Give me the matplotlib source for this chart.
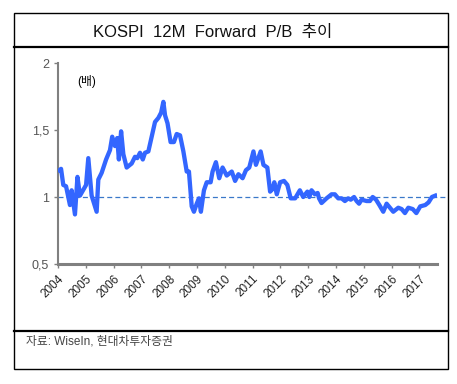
import matplotlib.pyplot as plt
from matplotlib.lines import Line2D
from matplotlib.patches import Rectangle

plt.rcParams['font.family'] = ['Liberation Sans', 'Noto Sans CJK KR', 'DejaVu Sans']

# KOSPI 12M forward P/B (decimal year, ratio)
years = [2004.05, 2004.11, 2004.19, 2004.29, 2004.43, 2004.49, 2004.61, 2004.70, 2004.79,
         2005.01, 2005.09, 2005.21, 2005.39, 2005.45, 2005.57, 2005.73, 2005.87, 2005.95,
         2006.05, 2006.13, 2006.19, 2006.27, 2006.35, 2006.47, 2006.65, 2006.77, 2006.85, 2006.95,
         2007.05, 2007.13, 2007.25, 2007.37, 2007.49, 2007.61, 2007.71, 2007.79, 2007.85, 2007.94,
         2008.05, 2008.17, 2008.27, 2008.39, 2008.51, 2008.63, 2008.71, 2008.81, 2008.89, 2008.99,
         2009.07, 2009.14, 2009.25, 2009.35, 2009.49, 2009.56, 2009.68, 2009.80, 2009.92,
         2010.07, 2010.25, 2010.37, 2010.49, 2010.64, 2010.76, 2010.88,
         2011.03, 2011.12, 2011.29, 2011.39, 2011.53, 2011.63, 2011.72, 2011.78, 2011.87, 2011.99,
         2012.13, 2012.25, 2012.37, 2012.53, 2012.70, 2012.82, 2012.97,
         2013.04, 2013.12, 2013.24, 2013.34, 2013.39, 2013.48, 2013.66, 2013.84, 2013.96,
         2014.08, 2014.20, 2014.32, 2014.44, 2014.53, 2014.65, 2014.74, 2014.83, 2014.92,
         2015.10, 2015.22, 2015.32, 2015.44, 2015.56, 2015.70, 2015.82, 2015.94,
         2016.06, 2016.24, 2016.36, 2016.48, 2016.60, 2016.76, 2016.89,
         2017.03, 2017.21, 2017.33, 2017.45, 2017.57]
pb = [1.20, 1.21, 1.09, 1.08, 0.94, 1.05, 0.87, 1.15, 1.01,
      1.09, 1.29, 1.01, 0.89, 1.13, 1.18, 1.28, 1.35, 1.45,
      1.38, 1.44, 1.28, 1.49, 1.32, 1.22, 1.25, 1.30, 1.29, 1.33,
      1.28, 1.33, 1.34, 1.45, 1.56, 1.59, 1.63, 1.71, 1.61, 1.55,
      1.41, 1.41, 1.47, 1.46, 1.34, 1.19, 1.19, 0.93, 0.89, 0.95,
      0.99, 0.89, 1.05, 1.11, 1.11, 1.19, 1.26, 1.14, 1.22,
      1.16, 1.19, 1.12, 1.17, 1.14, 1.20, 1.22,
      1.34, 1.24, 1.34, 1.24, 1.22, 1.04, 1.06, 1.11, 1.02, 1.11,
      1.12, 1.09, 0.99, 0.99, 1.05, 1.00, 1.04,
      1.00, 1.05, 1.02, 1.03, 0.99, 0.955, 0.99, 1.02, 1.02,
      0.99, 0.99, 0.97, 0.99, 0.98, 1.00, 0.97, 0.95, 0.98,
      0.97, 0.97, 1.00, 0.98, 0.94, 0.89, 0.95, 0.92,
      0.89, 0.92, 0.91, 0.88, 0.92, 0.91, 0.88,
      0.93, 0.94, 0.96, 1.00, 1.01]

year_ticks = list(range(2004, 2018))
y_ticks = [0.5, 1, 1.5, 2]
y_labels = ['0,5', '1', '1,5', '2']

W, H = 457, 384
fig = plt.figure(figsize=(W / 100, H / 100), dpi=100)
ax = fig.add_axes([58 / W, 1 - 264 / H, (437 - 58) / W, (264 - 63) / H])

ax.plot(years, pb, color='#3366ff', lw=3.1, solid_joinstyle='round', zorder=3)
ax.axhline(1, xmin=0, xmax=(447 - 58) / (437 - 58), color='#3a78c9', lw=0.9,
           ls=(0, (4, 2.5)), clip_on=False, zorder=2)

ax.set_xlim(2004, 2004 + (437 - 58) / 27.8)
ax.set_ylim(0.5, 2)
ax.set_xticks(year_ticks)
ax.set_xticklabels([str(y) for y in year_ticks], rotation=45, ha='right',
                   rotation_mode='anchor', fontsize=8.5)
ax.set_yticks(y_ticks)
ax.set_yticklabels(y_labels, fontsize=9)
ax.tick_params(colors='#808080', length=3, width=1, labelcolor='#222222')
ax.tick_params(axis='y', labelcolor='#555555')
for side in ['top', 'right']:
    ax.spines[side].set_visible(False)
ax.spines['left'].set_color('#808080')
ax.spines['left'].set_linewidth(1.5)
ax.spines['bottom'].set_color('#808080')
ax.spines['bottom'].set_linewidth(2.2)
ax.text(77 / W, 1 - 82 / H, '(배)', transform=fig.transFigure, fontsize=8.5,
        va='center', ha='left')

# frame, header and footer rules
fig.patches.append(Rectangle((14 / W, 1 - 369 / H), (448 - 14) / W, (369 - 13) / H,
                             transform=fig.transFigure, fill=False, ec='black', lw=1))
fig.lines.append(Line2D([14 / W, 448 / W], [1 - 47 / H] * 2, transform=fig.transFigure,
                        color='black', lw=1.6))
fig.lines.append(Line2D([14 / W, 448 / W], [1 - 331 / H] * 2, transform=fig.transFigure,
                        color='black', lw=1.6))

fig.text(93 / W, 1 - 32 / H, 'KOSPI  12M  Forward  P/B  추이', fontsize=12,
         va='center', ha='left', color='#111111')
fig.text(26 / W, 1 - 341 / H, '자료: WiseIn, 현대차투자증권', fontsize=8.5,
         va='center', ha='left', color='#444444')

fig.savefig('out.png', dpi=100)
